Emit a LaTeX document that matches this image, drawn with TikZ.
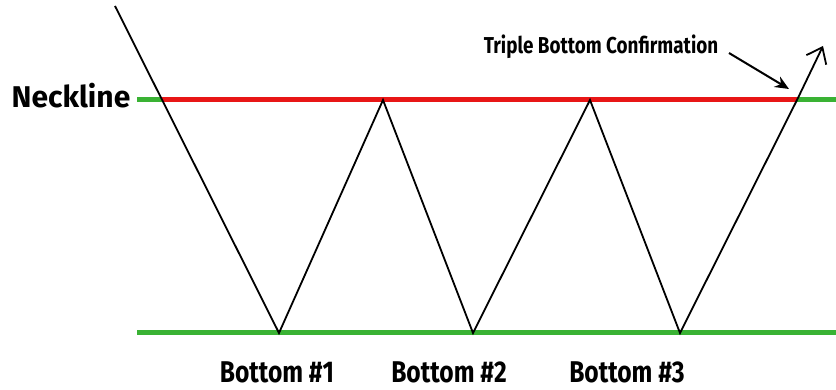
\documentclass[tikz,border=0pt]{standalone}
\usepackage{fontspec}
\setmainfont{Fira Sans}
\usetikzlibrary{arrows, arrows.meta, positioning}

\definecolor{levelgreen}{RGB}{58,178,52}
\definecolor{necklinered}{RGB}{232,22,22}

\begin{document}
\begin{tikzpicture}[x=1pt, y=-1pt]
\tikzstyle{level} = [line width=5pt, draw=levelgreen]
\tikzstyle{neck} = [line width=5pt, draw=necklinered]
\tikzstyle{price} = [line width=1.8pt, draw=black, line join=miter]
\tikzstyle{arrow} = [line width=2pt, -{Stealth[length=14pt, width=12pt]}]
\tikzstyle{tag} = [font=\bfseries, inner sep=0pt, xscale=0.82, transform shape]

\useasboundingbox (0,0) rectangle (836,390);

% support and resistance levels
\coordinate (nl-l) at (137,100);
\coordinate (nl-r) at (836,100);
\coordinate (bl-l) at (137,333);
\coordinate (bl-r) at (836,333);

% price path
\coordinate (start) at (115,6);
\coordinate (cross1) at (162,100);
\coordinate (bot1) at (279,333);
\coordinate (top1) at (383,100);
\coordinate (bot2) at (473,333);
\coordinate (top2) at (590,100);
\coordinate (bot3) at (680,333);
\coordinate (cross2) at (797,100);
\coordinate (finish) at (823,46);

\draw [level] (nl-l) -- (nl-r);
\draw [level] (bl-l) -- (bl-r);
\draw [neck] (cross1) -- (cross2);

\draw [price] (start) -- (bot1) -- (top1) -- (bot2) -- (top2) -- (bot3) -- (cross2);
\draw [price, -{Straight Barb[length=14pt, width=22pt, line width=1.8pt]}] (cross2) -- (finish);

% labels
\node (neckline) [tag, xscale=1.22, font=\fontsize{30}{30}\selectfont\bfseries] at (71,96) {Neckline};
\node (confirm) [tag, font=\fontsize{23}{23}\selectfont\bfseries] at (601,47) {Triple Bottom Confirmation};
\node (label1) [tag, font=\fontsize{30}{30}\selectfont\bfseries] at (277,372) {Bottom \#1};
\node (label2) [tag, font=\fontsize{30}{30}\selectfont\bfseries] at (449,372) {Bottom \#2};
\node (label3) [tag, font=\fontsize{30}{30}\selectfont\bfseries] at (627,372) {Bottom \#3};

\coordinate (confirm-tail) at (729,53);
\coordinate (confirm-tip) at (789,89);
\draw [arrow] (confirm-tail) -- (confirm-tip);
\end{tikzpicture}
\end{document}
